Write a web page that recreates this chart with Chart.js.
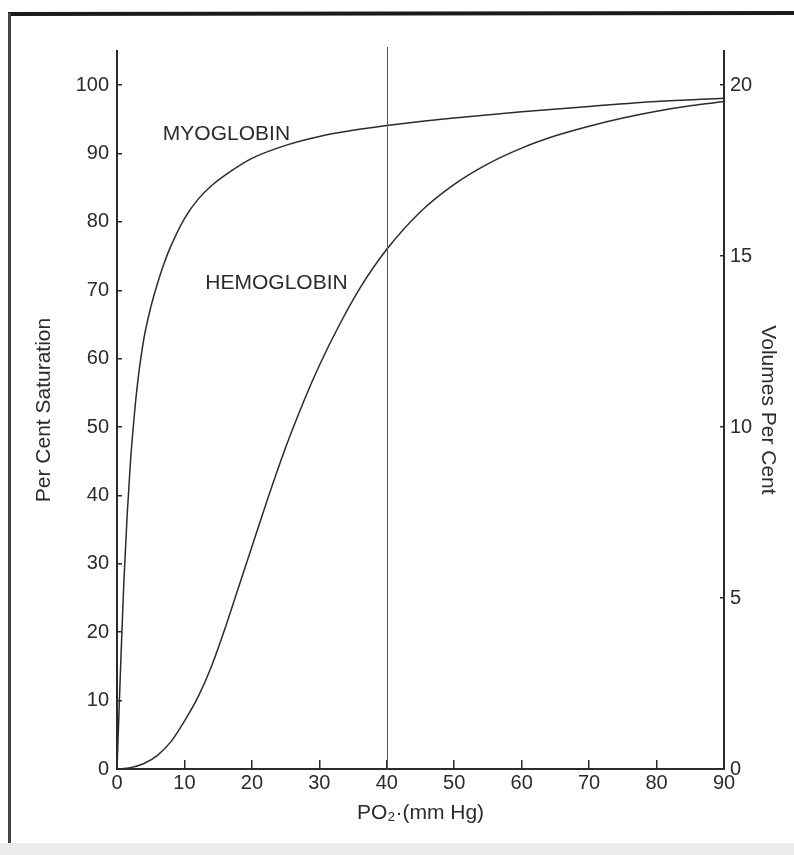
<!DOCTYPE html>
<html>
<head>
<meta charset="utf-8">
<script src="https://cdn.jsdelivr.net/npm/chart.js@4.4.1/dist/chart.umd.min.js"></script>
<style>
  html, body { margin: 0; padding: 0; background: #fff; }
  #wrap { width: 794px; height: 855px; position: relative; }
</style>
</head>
<body>
<div id="wrap"><canvas id="c" width="794" height="855"></canvas></div>
<script>
// Oxygen dissociation curves: PO2 (mm Hg) against per cent saturation
const po2Myoglobin = [0, 0.25, 0.5, 1, 1.5, 2, 2.5, 3, 4, 5, 6, 7, 8, 10, 12, 14, 17, 20, 25, 30, 35, 40, 45, 50, 60, 70, 80, 90];
const satMyoglobin = [0, 7, 14, 27, 37, 45, 51, 56, 63, 67.5, 71, 74, 76.5, 80.5, 83.3, 85.3, 87.5, 89.3, 91.2, 92.5, 93.4, 94.1, 94.7, 95.2, 96.1, 96.9, 97.6, 98.1];

const po2Hemoglobin = [0, 2, 4, 6, 8, 10, 12, 14, 16, 18, 20, 22, 25, 28, 30, 33, 36, 40, 45, 50, 55, 60, 65, 70, 75, 80, 85, 90];
const satHemoglobin = [0, 0.2, 0.8, 2, 4, 7, 10.5, 15, 20.5, 26.5, 32.5, 38.5, 47, 54.5, 59, 65, 70.3, 76, 81.5, 85.5, 88.5, 90.8, 92.6, 94, 95.2, 96.2, 97, 97.6];

const po2Ticks = [0, 10, 20, 30, 40, 50, 60, 70, 80, 90];
const saturationTicks = [0, 10, 20, 30, 40, 50, 60, 70, 80, 90, 100];
const volumeTicks = [0, 5, 10, 15, 20];

// venous PO2 reference line
const guidePO2 = 40;

// curve names, anchored in data units (left edge, vertical middle)
const curveNames = [
  { text: 'MYOGLOBIN', po2: 6.8, sat: 92.8 },
  { text: 'HEMOGLOBIN', po2: 13.1, sat: 71.1 }
];

const FONT = '"Liberation Sans", Arial, Helvetica, sans-serif';
const INK = '#2b2b2b';

const toPoints = (xs, ys) => xs.map((x, i) => ({ x: x, y: ys[i] }));

const pageFrame = {
  id: 'pageFrame',
  beforeDraw(chart) {
    const ctx = chart.ctx;
    ctx.save();
    ctx.fillStyle = '#ffffff';
    ctx.fillRect(0, 0, chart.width, chart.height);
    // light band along the bottom edge
    ctx.fillStyle = '#ececec';
    ctx.fillRect(0, 843, chart.width, chart.height - 843);
    // heavy rule along the top and the left edge
    ctx.strokeStyle = '#1a1a1a';
    ctx.lineWidth = 4;
    ctx.beginPath();
    ctx.moveTo(8, 14);
    ctx.lineTo(chart.width, 13);
    ctx.stroke();
    ctx.strokeStyle = '#444';
    ctx.lineWidth = 3;
    ctx.beginPath();
    ctx.moveTo(9.5, 13);
    ctx.lineTo(9.5, 843);
    ctx.stroke();
    ctx.restore();
  }
};

const guideAndNames = {
  id: 'guideAndNames',
  afterDatasetsDraw(chart) {
    const { ctx, chartArea, scales } = chart;
    ctx.save();
    const gx = Math.round(scales.x.getPixelForValue(guidePO2)) + 0.5;
    ctx.strokeStyle = '#555';
    ctx.lineWidth = 1;
    ctx.beginPath();
    ctx.moveTo(gx, chartArea.top - 4);
    ctx.lineTo(gx, chartArea.bottom);
    ctx.stroke();

    ctx.fillStyle = INK;
    ctx.font = '21px ' + FONT;
    ctx.textAlign = 'left';
    ctx.textBaseline = 'middle';
    curveNames.forEach(n => {
      ctx.fillText(n.text, scales.x.getPixelForValue(n.po2), scales.y.getPixelForValue(n.sat));
    });
    ctx.restore();
  }
};

new Chart(document.getElementById('c'), {
  type: 'scatter',
  data: {
    datasets: [
      {
        label: 'Myoglobin',
        data: toPoints(po2Myoglobin, satMyoglobin),
        showLine: true,
        borderColor: INK,
        borderWidth: 1.5,
        pointRadius: 0,
        cubicInterpolationMode: 'monotone',
        yAxisID: 'y'
      },
      {
        label: 'Hemoglobin',
        data: toPoints(po2Hemoglobin, satHemoglobin),
        showLine: true,
        borderColor: INK,
        borderWidth: 1.5,
        pointRadius: 0,
        cubicInterpolationMode: 'monotone',
        yAxisID: 'y'
      }
    ]
  },
  options: {
    responsive: false,
    animation: false,
    devicePixelRatio: 1,
    layout: { padding: { top: 51, left: 0, right: 0, bottom: 0 } },
    plugins: { legend: { display: false }, tooltip: { enabled: false } },
    scales: {
      x: {
        type: 'linear',
        min: 0,
        max: 90,
        afterBuildTicks: s => { s.ticks = po2Ticks.map(v => ({ value: v })); },
        afterFit: s => { s.height = 86; },
        grid: { drawOnChartArea: false, drawTicks: true, tickLength: -9, color: INK, lineWidth: 1.5 },
        border: { display: true, color: INK, width: 2 },
        ticks: { color: INK, padding: 11.5, font: { family: FONT, size: 20 }, maxRotation: 0 },
        title: {
          display: true,
          text: 'PO\u2082\u00B7(mm Hg)',
          color: INK,
          font: { family: FONT, size: 21 },
          padding: { top: 0, bottom: 29 }
        }
      },
      y: {
        type: 'linear',
        position: 'left',
        min: 0,
        max: 105,
        afterBuildTicks: s => { s.ticks = saturationTicks.map(v => ({ value: v })); },
        afterFit: s => { s.width = 117; },
        grid: { drawOnChartArea: false, drawTicks: true, tickLength: -5, color: INK, lineWidth: 1.5 },
        border: { display: true, color: INK, width: 2 },
        ticks: { color: INK, padding: 13, font: { family: FONT, size: 20 } },
        title: {
          display: true,
          text: 'Per Cent Saturation',
          color: INK,
          font: { family: FONT, size: 21 },
          padding: { top: 32, bottom: 0 }
        }
      },
      y2: {
        type: 'linear',
        position: 'right',
        min: 0,
        max: 21,
        afterBuildTicks: s => { s.ticks = volumeTicks.map(v => ({ value: v })); },
        afterFit: s => { s.width = 70; },
        grid: { drawOnChartArea: false, drawTicks: true, tickLength: -4, color: INK, lineWidth: 1.5 },
        border: { display: true, color: INK, width: 2 },
        ticks: { color: INK, padding: 10, font: { family: FONT, size: 20 } },
        title: {
          display: true,
          text: 'Volumes Per Cent',
          color: INK,
          font: { family: FONT, size: 21 },
          padding: { top: 14, bottom: 0 }
        }
      }
    }
  },
  plugins: [pageFrame, guideAndNames]
});
</script>
</body>
</html>
